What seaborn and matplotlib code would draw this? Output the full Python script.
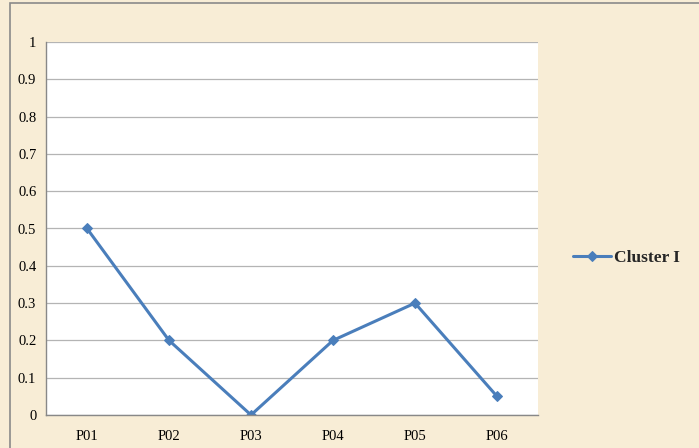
import pandas as pd
import numpy as np
import matplotlib.pyplot as plt
import seaborn as sns
from matplotlib.patches import Rectangle

# Chart data
categories = ['P01', 'P02', 'P03', 'P04', 'P05', 'P06']
cluster_i = [0.5, 0.2, 0.0, 0.2, 0.3, 0.05]
y_ticks = [0, 0.1, 0.2, 0.3, 0.4, 0.5, 0.6, 0.7, 0.8, 0.9, 1]
y_labels = ['0', '0.1', '0.2', '0.3', '0.4', '0.5', '0.6', '0.7', '0.8', '0.9', '1']

df = pd.DataFrame({'Param': categories, 'Value': cluster_i, 'Series': 'Cluster I'})

sns.set_style('white')
plt.rcParams['font.family'] = ['Liberation Serif', 'DejaVu Serif']

bg = '#F8EDD6'
fig = plt.figure(figsize=(6.99, 4.48), dpi=100, facecolor=bg)
fig.patches.append(Rectangle((10 / 699, -0.01), 1.02, 1 - 3 / 448 + 0.01,
                             transform=fig.transFigure, fill=False,
                             edgecolor='#8A8A8A', linewidth=1.2))

ax = fig.add_axes([46 / 699, 1 - 415 / 448, 492 / 699, 373 / 448])
ax.set_facecolor('white')

sns.lineplot(data=df, x='Param', y='Value', hue='Series', palette=['#4A7EBB'],
             marker='D', markersize=5.5, markeredgecolor='#4A7EBB',
             linewidth=2.2, sort=False, ax=ax)

ax.set_xlim(-0.5, len(categories) - 0.5)
ax.set_ylim(0, 1)
ax.set_yticks(y_ticks)
ax.set_yticklabels(y_labels)
ax.set_xticks(range(len(categories)))
ax.set_xticklabels(categories)
ax.set_xticks(np.arange(-0.5, len(categories), 1), minor=True)
ax.tick_params(axis='x', which='major', length=0, pad=11, labelsize=10.5, labelcolor='black')
ax.tick_params(axis='x', which='minor', length=4, color='#888888', direction='out')
ax.tick_params(axis='y', length=4, color='#888888', direction='out', pad=3,
               labelsize=10.5, labelcolor='black')
ax.set_xlabel('')
ax.set_ylabel('')
ax.grid(axis='y', color='#B4B4B4', linewidth=0.9)
ax.set_axisbelow(True)
for s in ['top', 'right']:
    ax.spines[s].set_visible(False)
for s in ['left', 'bottom']:
    ax.spines[s].set_color('#888888')
    ax.spines[s].set_linewidth(1)

ax.legend(loc='center left', bbox_to_anchor=(557 / 699, 1 - 258 / 448),
          bbox_transform=fig.transFigure, frameon=False, handlelength=2.2,
          handletextpad=0.2, prop={'weight': 'bold', 'size': 12.5})

fig.savefig('out.png', dpi=100, facecolor=bg)
